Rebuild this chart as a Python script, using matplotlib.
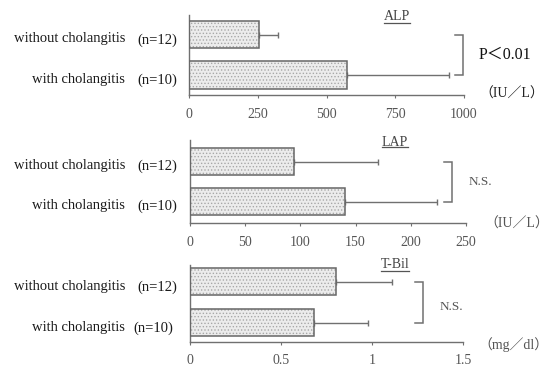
import matplotlib
matplotlib.use("Agg")
import matplotlib.pyplot as plt
from matplotlib import transforms
from matplotlib.lines import Line2D

plt.rcParams['font.family'] = ['Liberation Serif', 'Noto Sans CJK JP', 'DejaVu Sans']
plt.rcParams['hatch.linewidth'] = 0.6

# ---------------- data ----------------
categories = ["without cholangitis", "with cholangitis"]
n_labels = ["(n=12)", "(n=10)"]

alp_mean = [255, 575]
alp_sd = [70, 370]
alp_ticks = [0, 250, 500, 750, 1000]
alp_ticklabels = ["0", "250", "500", "750", "1000"]

lap_mean = [94, 140]
lap_sd = [76, 84]
lap_ticks = [0, 50, 100, 150, 200, 250]
lap_ticklabels = ["0", "50", "100", "150", "200", "250"]

tbil_mean = [0.80, 0.68]
tbil_sd = [0.31, 0.30]
tbil_ticks = [0, 0.5, 1, 1.5]
tbil_ticklabels = ["0", "0.5", "1", "1.5"]

titles = ["ALP", "LAP", "T-Bil"]
stats = ["P＜0.01", "N.S.", "N.S."]
units = ["（IU／L）", "（IU／L）", "（mg／dl）"]
# ---------------------------------------

W, H = 552, 366
fig = plt.figure(figsize=(W / 100, H / 100), dpi=100)

def fx(px):
    return px / W

def fy(py):
    return 1 - py / H

panels = [
    dict(x0=189, x1=464, ytop=15, yaxis=95, ctop=34.5, cbot=75, xmax=1000,
         ticks=alp_ticks, tl=alp_ticklabels, mean=alp_mean, sd=alp_sd,
         brx=463, title_xy=(397, 17), stat_xy=(479, 55), stat_size=11.5,
         unit_xy=(479, 94), n10_x=137),
    dict(x0=190, x1=466, ytop=140, yaxis=223, ctop=161.5, cbot=201.5, xmax=250,
         ticks=lap_ticks, tl=lap_ticklabels, mean=lap_mean, sd=lap_sd,
         brx=452, title_xy=(395, 142), stat_xy=(469, 182), stat_size=9.5,
         unit_xy=(484, 224), n10_x=137),
    dict(x0=190, x1=463, ytop=265, yaxis=342, ctop=281.5, cbot=322.5, xmax=1.5,
         ticks=tbil_ticks, tl=tbil_ticklabels, mean=tbil_mean, sd=tbil_sd,
         brx=423, title_xy=(395, 265), stat_xy=(440, 307), stat_size=9.5,
         unit_xy=(478, 345), n10_x=133),
]

axis_col = "#707070"
text_col = "#1a1a1a"
tick_col = "#555555"

title_texts = []
for i, p in enumerate(panels):
    s = p["cbot"] - p["ctop"]
    ylo = -(p["yaxis"] - p["cbot"]) / s
    yhi = 1 + (p["ctop"] - p["ytop"]) / s
    ax = fig.add_axes([fx(p["x0"]), fy(p["yaxis"]), (p["x1"] - p["x0"]) / W,
                       (p["yaxis"] - p["ytop"]) / H])
    ax.set_xlim(0, p["xmax"])
    ax.set_ylim(ylo, yhi)
    ax.patch.set_alpha(0)
    for sp in ["top", "right"]:
        ax.spines[sp].set_visible(False)
    for sp in ["left", "bottom"]:
        ax.spines[sp].set_color(axis_col)
        ax.spines[sp].set_linewidth(1.0)
    ax.set_yticks([])
    ax.set_xticks(p["ticks"])
    ax.set_xticklabels(p["tl"])
    ax.tick_params(axis="x", length=2, width=0.8, color=axis_col, pad=7,
                   labelsize=10, labelcolor=tick_col)

    ypos = [1, 0]
    h = 27.5 / s
    # dotted fill
    ax.barh(ypos, p["mean"], height=h, color="#ececec", edgecolor="#a8a8a8",
            linewidth=0, hatch=".....", zorder=2)
    # outline
    ax.barh(ypos, p["mean"], height=h, fill=False, edgecolor="#666666",
            linewidth=1.1, zorder=3)
    # one-sided error bars
    ax.errorbar(p["mean"], ypos, xerr=[[0, 0], p["sd"]], fmt="none",
                ecolor="#707070", elinewidth=1.0, capsize=2, capthick=1.0,
                zorder=1)

    # bracket
    bx = (p["brx"] - p["x0"]) / (p["x1"] - p["x0"]) * p["xmax"]
    stub = 8 / (p["x1"] - p["x0"]) * p["xmax"]
    ax.plot([bx - stub, bx, bx, bx - stub], [1, 1, 0, 0], color="#707070",
            lw=1.1, clip_on=False, solid_joinstyle="miter")

    # left labels
    tr = transforms.blended_transform_factory(fig.transFigure, ax.transData)
    for y, cat, nl in zip(ypos, categories, n_labels):
        fig.text(fx(125), y - 0.11, cat, transform=tr, ha="right", va="center",
                 fontsize=10.5, color=text_col)
        nx = 137 if y == 1 else p["n10_x"]
        fig.text(fx(nx), y - 0.13, nl, transform=tr, ha="left", va="center",
                 fontsize=10.5, color=text_col)

    # title, stat, unit
    t = fig.text(fx(p["title_xy"][0]), fy(p["title_xy"][1]), titles[i],
                 ha="center", va="center", fontsize=10, color="#444444")
    title_texts.append(t)
    fig.text(fx(p["stat_xy"][0]), fy(p["stat_xy"][1]), stats[i], ha="left",
             va="center", fontsize=p["stat_size"],
             color="#111111" if i == 0 else "#555555")
    fig.text(fx(p["unit_xy"][0]), fy(p["unit_xy"][1]), units[i], ha="left",
             va="center", fontsize=10, color="#222222" if i == 0 else "#555555")

# underline titles
fig.canvas.draw()
for t in title_texts:
    bb = t.get_window_extent()
    yline = bb.y0 + 1
    fig.add_artist(Line2D([bb.x0 / W, bb.x1 / W], [yline / H, yline / H],
                          transform=fig.transFigure, color="#555555", lw=0.9))

fig.savefig("out.png", dpi=100)
